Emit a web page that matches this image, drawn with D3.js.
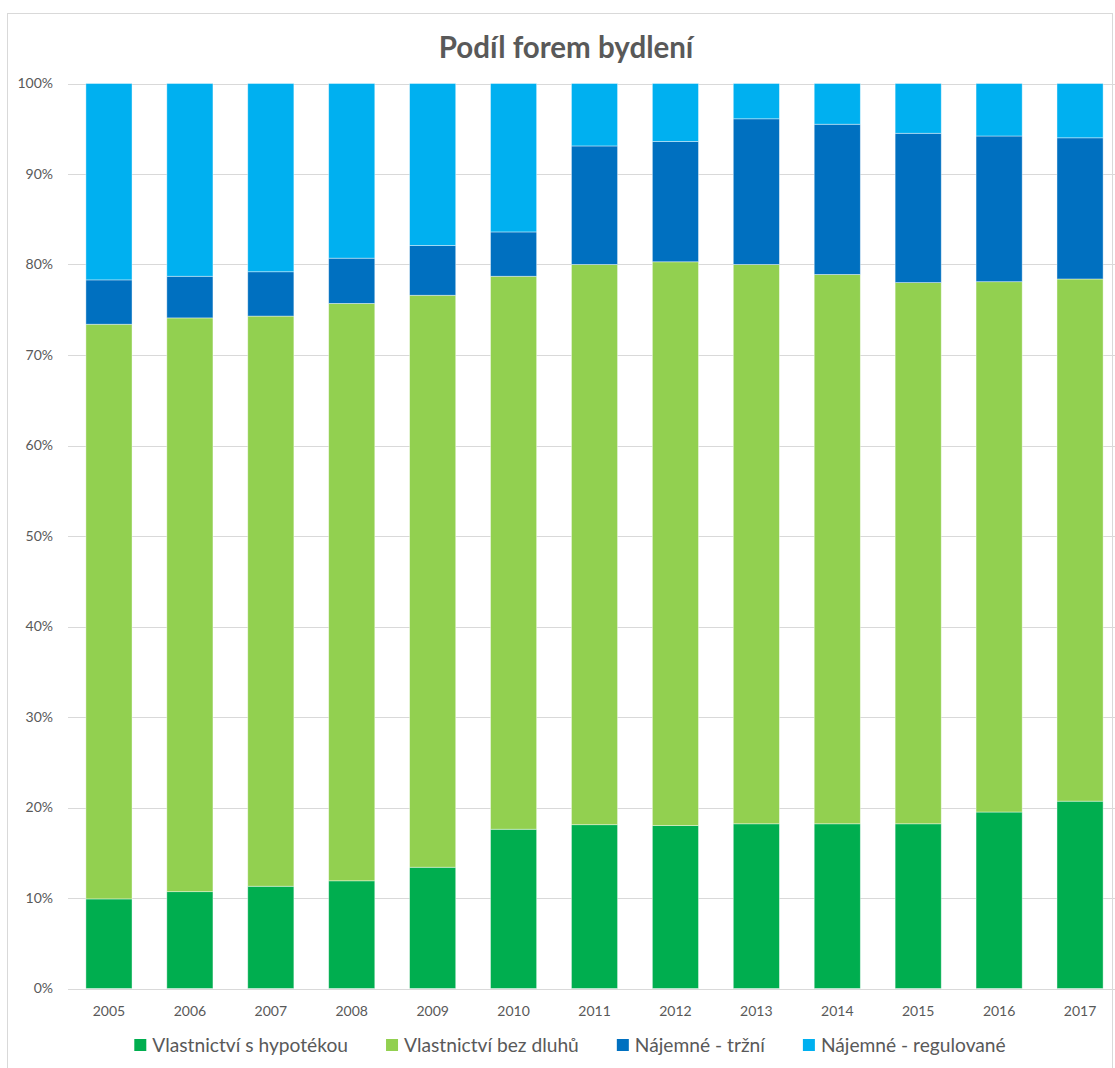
<!DOCTYPE html>
<html>
<head>
<meta charset="utf-8">
<script src="https://cdn.jsdelivr.net/npm/d3@7"></script>
<style>
  html, body { margin: 0; padding: 0; background: #fff; }
  svg { display: block; }
  text { font-family: Lato, "Open Sans", sans-serif; fill: #595959; }
</style>
</head>
<body>
<svg id="chart" width="1115" height="1068"></svg>
<script>
// Shares of housing tenure, percent per year
const years = ["2005","2006","2007","2008","2009","2010","2011","2012","2013","2014","2015","2016","2017"];
const seriesNames = ["Vlastnictví s hypotékou", "Vlastnictví bez dluhů", "Nájemné - tržní", "Nájemné - regulované"];
const hypoteka   = [9.9, 10.7, 11.3, 11.9, 13.4, 17.6, 18.1, 18.0, 18.2, 18.2, 18.2, 19.5, 20.7];
const bezDluhu   = [63.5, 63.4, 63.0, 63.8, 63.2, 61.1, 61.9, 62.3, 61.8, 60.7, 59.8, 58.6, 57.7];
const trzni      = [4.9, 4.6, 4.9, 5.0, 5.5, 4.9, 13.1, 13.3, 16.1, 16.6, 16.5, 16.1, 15.6];
const regulovane = [21.7, 21.3, 20.8, 19.3, 17.9, 16.4, 6.9, 6.4, 3.9, 4.5, 5.5, 5.8, 6.0];
const yTicks = [0, 10, 20, 30, 40, 50, 60, 70, 80, 90, 100];
const colors = ["#00AE4F", "#92D050", "#0070C0", "#00B0F0"];

const svg = d3.select("#chart");

// chart frame
svg.append("rect")
  .attr("x", 7.5).attr("y", 13.5)
  .attr("width", 1105).attr("height", 1070)
  .attr("fill", "#fff").attr("stroke", "#d9d9d9").attr("stroke-width", 1);

const table = years.map((y, i) => ({
  year: y,
  [seriesNames[0]]: hypoteka[i],
  [seriesNames[1]]: bezDluhu[i],
  [seriesNames[2]]: trzni[i],
  [seriesNames[3]]: regulovane[i]
}));

const stacked = d3.stack().keys(seriesNames)(table);

const x = d3.scaleBand().domain(years).range([68.5, 1120.5])
  .paddingInner(0.43).paddingOuter(0.215);
const y = d3.scaleLinear().domain([0, 100]).range([988.5, 83.5]);

// gridlines
svg.append("g").selectAll("line").data(yTicks).join("line")
  .attr("x1", 68).attr("x2", 1115)
  .attr("y1", d => Math.round(y(d)) + 0.5).attr("y2", d => Math.round(y(d)) + 0.5)
  .attr("stroke", "#d9d9d9").attr("stroke-width", 1);

// y axis labels
const yAxis = d3.axisLeft(y).tickValues(yTicks).tickFormat(d => d + "%").tickSize(0).tickPadding(0);
svg.append("g").attr("transform", "translate(53,0)").call(yAxis)
  .call(g => g.select(".domain").remove())
  .call(g => g.selectAll("text").attr("font-family", "Lato, sans-serif")
    .attr("font-size", 14).attr("fill", "#595959"));

// x axis labels
const xAxis = d3.axisBottom(x).tickSize(0).tickPadding(0);
svg.append("g").attr("transform", "translate(0,1006)").call(xAxis)
  .call(g => g.select(".domain").remove())
  .call(g => g.selectAll("text").attr("font-family", "Lato, sans-serif")
    .attr("font-size", 14).attr("fill", "#595959"));

// stacked bars
svg.append("g").selectAll("g").data(stacked).join("g")
  .attr("fill", (d, i) => colors[i])
  .selectAll("rect").data(d => d).join("rect")
  .attr("x", d => x(d.data.year))
  .attr("width", x.bandwidth())
  .attr("y", d => y(d[1]))
  .attr("height", d => y(d[0]) - y(d[1]))
  .attr("stroke", "#ffffff").attr("stroke-opacity", 0.5).attr("stroke-width", 0.8);

// title
svg.append("text")
  .attr("x", 566).attr("y", 58)
  .attr("text-anchor", "middle")
  .attr("font-size", 29.5).attr("font-weight", "bold")
  .text("Podíl forem bydlení");

// legend
const legend = svg.append("g");
const items = legend.selectAll("g").data(seriesNames).join("g");
items.append("rect").attr("width", 12).attr("height", 12)
  .attr("y", 1039).attr("fill", (d, i) => colors[i]);
items.append("text").attr("x", 18).attr("y", 1051.5)
  .attr("font-size", 19.2).text(d => d);
let cx = 0;
const offsets = [];
items.each(function() {
  offsets.push(cx);
  cx += 18 + this.querySelector("text").getComputedTextLength() + 38;
});
const total = cx - 38;
const startX = 570 - total / 2;
items.attr("transform", (d, i) => `translate(${startX + offsets[i]},0)`);
</script>
</body>
</html>
